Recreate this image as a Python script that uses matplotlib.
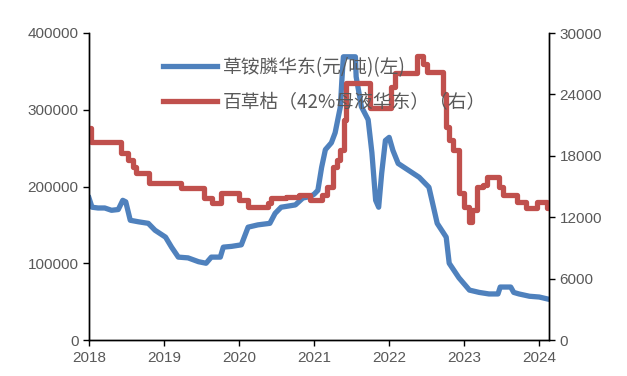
import matplotlib
matplotlib.use("Agg")
import matplotlib.pyplot as plt

plt.rcParams['font.family'] = ['Liberation Sans', 'Noto Sans CJK SC', 'DejaVu Sans']

# 草铵膦华东 (元/吨), left axis, x in decimal years
blue_x = [2018.00, 2018.04, 2018.12, 2018.21, 2018.30, 2018.39, 2018.45, 2018.49, 2018.55,
          2018.66, 2018.79, 2018.88, 2019.02, 2019.10, 2019.19, 2019.32, 2019.46, 2019.56,
          2019.63, 2019.75, 2019.79, 2019.90, 2020.03, 2020.12, 2020.25, 2020.41, 2020.48,
          2020.56, 2020.75, 2020.85, 2020.95, 2021.00, 2021.05, 2021.10, 2021.15, 2021.23,
          2021.28, 2021.35, 2021.37, 2021.39, 2021.55, 2021.56, 2021.63, 2021.72, 2021.77,
          2021.82, 2021.86, 2021.90, 2021.95, 2022.00, 2022.05, 2022.12, 2022.26, 2022.40,
          2022.53, 2022.57, 2022.64, 2022.76, 2022.80, 2022.93, 2023.07, 2023.20, 2023.33,
          2023.45, 2023.48, 2023.62, 2023.66, 2023.73, 2023.87, 2024.00, 2024.13]
blue_y = [185000, 173000, 172000, 172000, 169000, 170000, 182000, 180000, 156000,
          154000, 152000, 143000, 134000, 121000, 108000, 107000, 102000, 100000,
          108000, 108000, 121000, 122000, 124000, 147000, 150000, 152000, 165000,
          173000, 176000, 185000, 187000, 190000, 195000, 225000, 248000, 257000,
          270000, 304000, 339000, 369000, 369000, 343000, 304000, 287000, 244000,
          182000, 173000, 217000, 260000, 264000, 247000, 230000, 221000, 212000,
          199000, 182000, 152000, 134000, 100000, 81000, 65000, 62000, 60000,
          60000, 69000, 69000, 62000, 60000, 57000, 56000, 53000]

# 百草枯 (42%母液华东), right axis; each value holds from its date to the next
red_x = [2018.00, 2018.03, 2018.42, 2018.52, 2018.59, 2018.62, 2018.80, 2019.23, 2019.53,
         2019.64, 2019.76, 2020.00, 2020.12, 2020.38, 2020.42, 2020.62, 2020.80, 2020.95,
         2021.10, 2021.17, 2021.25, 2021.30, 2021.35, 2021.40, 2021.43, 2021.75, 2022.02,
         2022.08, 2022.37, 2022.45, 2022.50, 2022.72, 2022.76, 2022.80, 2022.85, 2022.93,
         2023.00, 2023.07, 2023.10, 2023.17, 2023.25, 2023.30, 2023.46, 2023.52, 2023.70,
         2023.82, 2023.97, 2024.10, 2024.13]
red_y = [20700, 19300, 18300, 17600, 16900, 16300, 15300, 14850, 13900,
         13400, 14350, 13700, 13000, 13400, 13900, 14000, 14200, 13700,
         14200, 15000, 16900, 17600, 18600, 21500, 25100, 22700, 24700,
         26100, 27800, 27000, 26200, 24000, 20800, 19500, 18600, 14400,
         13000, 11500, 12700, 15000, 15100, 15900, 15000, 14200, 13500,
         12900, 13500, 12900, 12900]

years = [2018, 2019, 2020, 2021, 2022, 2023, 2024]
left_ticks = [0, 100000, 200000, 300000, 400000]
right_ticks = [0, 6000, 12000, 18000, 24000, 30000]

blue_c = '#4F81BD'
red_c = '#C0504D'
tick_c = '#595959'

fig = plt.figure(figsize=(6.27, 3.76), dpi=100)
ax = fig.add_axes([89/627, 36/376, 460/627, 307/376])
ax2 = ax.twinx()

l1, = ax.plot(blue_x, blue_y, color=blue_c, lw=3.8, solid_joinstyle='round',
              label='草铵膦华东(元/吨)(左)')
l2, = ax2.plot(red_x, red_y, color=red_c, lw=3.8, drawstyle='steps-post',
               solid_joinstyle='round', label='百草枯（42%母液华东）（右）')

ax.set_xlim(2018, 2024.13)
ax.set_ylim(0, 400000)
ax2.set_ylim(0, 30000)
ax.set_xticks(years)
ax.set_xticklabels([str(y) for y in years])
ax.set_yticks(left_ticks)
ax2.set_yticks(right_ticks)

for a in (ax, ax2):
    a.spines['top'].set_visible(False)
    for s in a.spines.values():
        s.set_color('black')
        s.set_linewidth(1.0)
    a.tick_params(colors='black', labelcolor=tick_c, labelsize=11, length=4, width=1)
ax.tick_params(axis='x', pad=4)

leg = fig.legend(handles=[l1, l2], loc='upper left', bbox_to_anchor=(146/627, 1 - 40/376),
                 frameon=False, handlelength=2.9, handletextpad=0.3, labelspacing=0.75,
                 prop={'family': ['Noto Sans CJK SC'], 'size': 13.5})
for t in leg.get_texts():
    t.set_color(tick_c)

fig.savefig('out.png', dpi=100)
